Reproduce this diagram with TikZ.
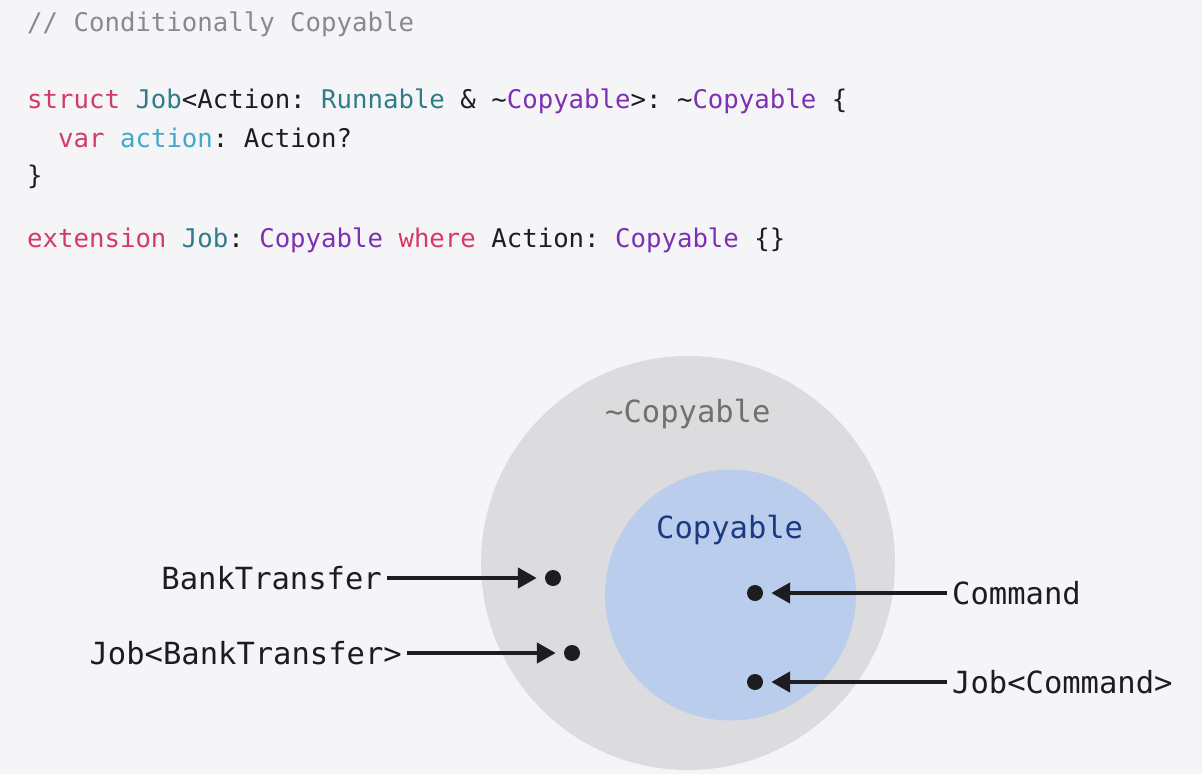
\documentclass[tikz,border=0pt]{standalone}
\usepackage{fontspec}
\setmonofont{DejaVu Sans Mono}
\usetikzlibrary{arrows.meta}
\definecolor{bg}{HTML}{F5F5F7}
\definecolor{kw}{HTML}{D23B65}
\definecolor{ty}{HTML}{2F7D8C}
\definecolor{pu}{HTML}{7D30B3}
\definecolor{lb}{HTML}{3FA9C9}
\definecolor{tx}{HTML}{1D1D1F}
\definecolor{cm}{HTML}{8A8A8E}
\definecolor{outerc}{HTML}{DCDCDE}
\definecolor{innerc}{HTML}{BBCDED}
\definecolor{outert}{HTML}{707070}
\definecolor{innert}{HTML}{1B3A82}
\tikzset{
  codeline/.style={anchor=base west,inner sep=0pt,text=tx,font=\ttfamily\fontsize{25.7}{30}\selectfont},
  lbl/.style={inner sep=0pt,text=tx,text height=23pt,text depth=0pt,font=\ttfamily\fontsize{30.5}{36}\selectfont},
  setlbl/.style={anchor=base west,inner sep=0pt,font=\ttfamily\fontsize{30.5}{36}\selectfont},
  dot/.style={circle,fill=tx,inner sep=0pt,minimum size=16pt},
  arr/.style={draw=tx,line width=4.5pt,-{Triangle[length=19pt,width=20pt]},shorten <=5pt,shorten >=8pt},
}
\begin{document}
\begin{tikzpicture}[x=1pt,y=-1pt]
\fill[bg] (0,0) rectangle (1202,774);
\useasboundingbox (0,0) rectangle (1202,774);
% code
\node[codeline,text=cm] (c1) at (27,31) {// Conditionally Copyable};
\node[codeline] (c2) at (27,108) {\textcolor{kw}{struct} \textcolor{ty}{Job}<Action: \textcolor{ty}{Runnable} \& \textasciitilde\textcolor{pu}{Copyable}>: \textasciitilde\textcolor{pu}{Copyable} \{};
\node[codeline] (c3) at (58,147) {\textcolor{kw}{var} \textcolor{lb}{action}: Action?};
\node[codeline] (c4) at (27,184) {\}};
\node[codeline] (c5) at (27,247) {\textcolor{kw}{extension} \textcolor{ty}{Job}: \textcolor{pu}{Copyable} \textcolor{kw}{where} Action: \textcolor{pu}{Copyable} \{\}};
% sets
\node[circle,fill=outerc,minimum size=414pt,inner sep=0pt] (outer) at (688,563) {};
\node[circle,fill=innerc,minimum size=251pt,inner sep=0pt] (inner) at (730.5,595) {};
\node[setlbl,text=outert] (tout) at (605,422) {\textasciitilde Copyable};
\node[setlbl,text=innert] (tin) at (656,538) {Copyable};
% dots
\node[dot] (d1) at (553,578) {};
\node[dot] (d2) at (572,653) {};
\node[dot] (d3) at (755,593) {};
\node[dot] (d4) at (755,682) {};
% labels
\node[lbl,anchor=east] (l1) at (382,578) {BankTransfer};
\node[lbl,anchor=east] (l2) at (402,653) {Job<BankTransfer>};
\node[lbl,anchor=west] (l3) at (952,593) {Command};
\node[lbl,anchor=west] (l4) at (952,682) {Job<Command>};
% arrows
\draw[arr] (l1.east) -- (d1);
\draw[arr] (l2.east) -- (d2);
\draw[arr] (l3.west) -- (d3);
\draw[arr] (l4.west) -- (d4);
\end{tikzpicture}
\end{document}
